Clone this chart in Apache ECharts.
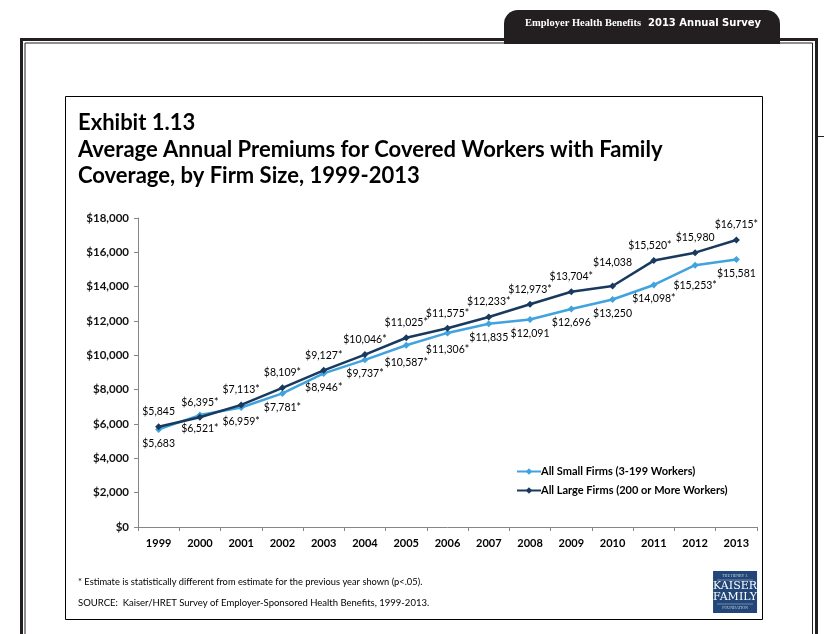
<!DOCTYPE html>
<html>
<head>
<meta charset="utf-8">
<script src="https://cdn.jsdelivr.net/npm/echarts@6/dist/echarts.min.js"></script>
<style>
  html, body { margin: 0; padding: 0; background: #fff; }
  #main { width: 824px; height: 634px; }
</style>
</head>
<body>
<div id="main"></div>
<script>
  const years = ['1999', '2000', '2001', '2002', '2003', '2004', '2005', '2006', '2007', '2008', '2009', '2010', '2011', '2012', '2013']
  const smallFirms = [5683, 6521, 6959, 7781, 8946, 9737, 10587, 11306, 11835, 12091, 12696, 13250, 14098, 15253, 15581]
  const largeFirms = [5845, 6395, 7113, 8109, 9127, 10046, 11025, 11575, 12233, 12973, 13704, 14038, 15520, 15980, 16715]
  // 1 = statistically different from previous year (*)
  const smallStar = [0, 1, 1, 1, 1, 1, 1, 1, 0, 0, 0, 0, 1, 1, 0]
  const largeStar = [0, 1, 1, 1, 1, 1, 1, 1, 1, 1, 1, 0, 1, 0, 1]
  const yTicks = [0, 2000, 4000, 6000, 8000, 10000, 12000, 14000, 16000, 18000]

  const FONT = 'Lato, "Open Sans", sans-serif'
  const money = (v) => '$' + v.toLocaleString('en-US')

  const chart = echarts.init(document.getElementById('main'), null, { renderer: 'canvas' })
  chart.setOption({
    backgroundColor: '#fff',
    animation: false,
    textStyle: { fontFamily: FONT },
    title: {
      left: 78,
      top: 110,
      padding: 0,
      text: 'Exhibit 1.13\nAverage Annual Premiums for Covered Workers with Family\nCoverage, by Firm Size, 1999-2013',
      textStyle: { fontFamily: FONT, fontSize: 22, fontWeight: 'bold', color: '#000', lineHeight: 26.5 }
    },
    legend: {
      orient: 'vertical',
      left: 511,
      top: 461,
      itemWidth: 24,
      itemHeight: 8,
      itemGap: 8,
      textStyle: { fontFamily: FONT, fontSize: 11, fontWeight: 'bold', color: '#000', padding: [0, 0, 0, -5] },
      data: ['All Small Firms (3-199 Workers)', 'All Large Firms (200 or More Workers)']
    },
    grid: { left: 138, right: 67, top: 218, bottom: 107 },
    xAxis: {
      type: 'category',
      data: years,
      boundaryGap: true,
      axisLine: { lineStyle: { color: '#868686', width: 1 } },
      axisTick: { show: true, length: 4, lineStyle: { color: '#868686' } },
      axisLabel: { fontFamily: FONT, fontSize: 11, fontWeight: 'bold', color: '#000', margin: 11 }
    },
    yAxis: {
      type: 'value',
      min: 0,
      max: 18000,
      interval: 2000,
      splitLine: { show: false },
      axisLine: { show: true, lineStyle: { color: '#868686', width: 1 } },
      axisTick: { show: true, length: 4, lineStyle: { color: '#868686' } },
      axisLabel: {
        fontFamily: FONT, fontSize: 11.5, fontWeight: 'bold', color: '#111', margin: 9,
        formatter: (v) => yTicks.includes(v) ? money(v) : ''
      }
    },
    series: [
      {
        name: 'All Small Firms (3-199 Workers)',
        type: 'line',
        data: smallFirms,
        color: '#40a3de',
        symbol: 'diamond',
        symbolSize: 7,
        lineStyle: { width: 2.5 },
        label: {
          show: true,
          position: 'bottom',
          distance: 5,
          fontFamily: FONT,
          fontSize: 10.5,
          color: '#000',
          formatter: (p) => money(p.value) + (smallStar[p.dataIndex] ? '*' : '')
        },
        // nudge a couple of labels like the original exhibit
        labelLayout: (p) => (p.dataIndex === 13 ? { dy: 6 } : p.dataIndex === 6 || p.dataIndex === 7 ? { dy: 3 } : {}),
        z: 2
      },
      {
        name: 'All Large Firms (200 or More Workers)',
        type: 'line',
        data: largeFirms,
        color: '#193a5e',
        symbol: 'diamond',
        symbolSize: 7,
        lineStyle: { width: 2.5 },
        label: {
          show: true,
          position: 'top',
          distance: 6,
          fontFamily: FONT,
          fontSize: 10.5,
          color: '#000',
          formatter: (p) => money(p.value) + (largeStar[p.dataIndex] ? '*' : '')
        },
        labelLayout: (p) => (p.dataIndex === 11 ? { dy: -8 } : p.dataIndex === 12 ? { dx: -4 } : {}),
        z: 3
      }
    ],
    graphic: [
      // header tab
      {
        type: 'rect', shape: { x: 504, y: 10, width: 276, height: 34, r: [14, 14, 0, 0] },
        style: { fill: '#231f20' }, silent: true
      },
      {
        type: 'text', left: 525, top: 18,
        style: { text: 'Employer Health Benefits', fill: '#fff', font: 'bold 10.5px "Liberation Serif", serif' }
      },
      {
        type: 'text', left: 648, top: 18,
        style: { text: '2013 Annual Survey', fill: '#fff', font: 'bold 10px "DejaVu Sans", sans-serif' }
      },
      // outer page frame (double line)
      {
        type: 'polyline', shape: { points: [[21.5, 640], [21.5, 39.5], [816.5, 39.5], [816.5, 640]] },
        style: { stroke: '#231f20', lineWidth: 3, fill: null }, silent: true
      },
      {
        type: 'polyline', shape: { points: [[25, 640], [25, 43], [812.5, 43], [812.5, 640]] },
        style: { stroke: '#231f20', lineWidth: 1, fill: null }, silent: true
      },
      {
        type: 'line', shape: { x1: 818, y1: 136.5, x2: 824, y2: 136.5 },
        style: { stroke: '#231f20', lineWidth: 1 }, silent: true
      },
      // exhibit box
      {
        type: 'rect', shape: { x: 65.5, y: 96.5, width: 697, height: 523 },
        style: { stroke: '#000', lineWidth: 1, fill: null }, silent: true, z: -1
      },
      // notes
      {
        type: 'text', left: 78, top: 577,
        style: { text: '* Estimate is statistically different from estimate for the previous year shown (p<.05).', fill: '#000', font: '9.3px ' + FONT }
      },
      {
        type: 'text', left: 78, top: 598,
        style: { text: 'SOURCE:  Kaiser/HRET Survey of Employer-Sponsored Health Benefits, 1999-2013.', fill: '#000', font: '9.5px ' + FONT }
      },
      // KFF logo
      {
        type: 'group', left: 713, top: 571,
        children: [
          { type: 'rect', shape: { x: 0, y: 0, width: 44, height: 42 }, style: { fill: '#214677' } },
          { type: 'text', x: 22, y: 3, style: { text: 'THE HENRY J.', fill: '#c8d3e3', font: '4px serif', align: 'center' } },
          { type: 'line', shape: { x1: 4, y1: 9, x2: 40, y2: 9 }, style: { stroke: '#c8d3e3', lineWidth: 0.5 } },
          { type: 'text', x: 22, y: 10, style: { text: 'KAISER', fill: '#fff', font: '11px "DejaVu Serif", serif', align: 'center' } },
          { type: 'text', x: 22, y: 21, style: { text: 'FAMILY', fill: '#fff', font: '11px "DejaVu Serif", serif', align: 'center' } },
          { type: 'line', shape: { x1: 4, y1: 33, x2: 40, y2: 33 }, style: { stroke: '#c8d3e3', lineWidth: 0.5 } },
          { type: 'text', x: 22, y: 35, style: { text: 'FOUNDATION', fill: '#c8d3e3', font: '4px serif', align: 'center' } }
        ]
      }
    ]
  })
</script>
</body>
</html>
